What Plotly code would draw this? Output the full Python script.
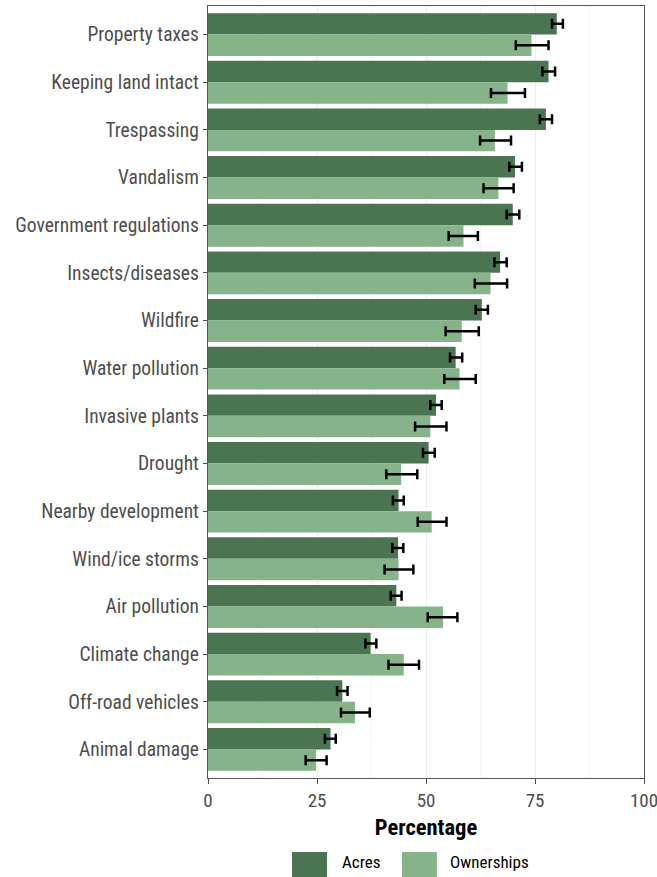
import plotly.graph_objects as go

categories = ["Property taxes", "Keeping land intact", "Trespassing", "Vandalism",
              "Government regulations", "Insects/diseases", "Wildfire", "Water pollution",
              "Invasive plants", "Drought", "Nearby development", "Wind/ice storms",
              "Air pollution", "Climate change", "Off-road vehicles", "Animal damage"]

acres = [80.0, 78.1, 77.5, 70.4, 69.9, 67.0, 62.8, 56.8, 52.3, 50.6, 43.7, 43.6, 43.2, 37.3, 30.8, 28.1]
acres_lo = [78.9, 76.7, 76.1, 69.1, 68.5, 65.7, 61.4, 55.5, 51.0, 49.3, 42.4, 42.3, 41.9, 36.1, 29.6, 26.8]
acres_hi = [81.4, 79.6, 78.9, 72.0, 71.4, 68.5, 64.2, 58.3, 53.6, 52.0, 44.9, 44.8, 44.4, 38.6, 32.0, 29.3]

owners = [74.2, 68.7, 65.8, 66.6, 58.6, 64.8, 58.2, 57.7, 51.0, 44.3, 51.3, 43.7, 53.9, 44.9, 33.7, 24.8]
owners_lo = [70.6, 64.9, 62.4, 63.2, 55.2, 61.2, 54.5, 54.2, 47.5, 40.9, 48.1, 40.5, 50.4, 41.4, 30.5, 22.4]
owners_hi = [78.1, 72.7, 69.5, 70.1, 61.9, 68.6, 62.1, 61.4, 54.7, 48.0, 54.7, 47.1, 57.2, 48.4, 37.1, 27.2]

x_ticks = [0, 25, 50, 75, 100]
series_names = ["Acres", "Ownerships"]
colors = ["#4b7450", "#86b38a"]

FONT = "Liberation Sans Narrow, Roboto Condensed, Arial Narrow, Liberation Sans, sans-serif"

fig = go.Figure()
for name, vals, lo, hi, col in [(series_names[0], acres, acres_lo, acres_hi, colors[0]),
                                (series_names[1], owners, owners_lo, owners_hi, colors[1])]:
    fig.add_trace(go.Bar(
        y=categories, x=vals, orientation="h", name=name,
        marker=dict(color=col, line=dict(width=0)),
        error_x=dict(type="data", symmetric=False,
                     array=[h - v for h, v in zip(hi, vals)],
                     arrayminus=[v - l for l, v in zip(lo, vals)],
                     color="black", thickness=2.5, width=5),
        showlegend=False,
    ))

fig.update_layout(
    width=657, height=877,
    margin=dict(l=208, r=13, t=6, b=99, autoexpand=False),
    barmode="group", bargap=0.1, bargroupgap=0,
    plot_bgcolor="white", paper_bgcolor="white",
    font=dict(family=FONT, size=16, color="#4d4d4d"),
    xaxis=dict(range=[0, 100], tickvals=x_ticks, ticks="outside", ticklen=5,
               tickcolor="#4d4d4d", tickwidth=1.3, automargin=False,
               ticklabeloverflow="allow",
               showgrid=True, gridcolor="#eeeeee", gridwidth=1,
               minor=dict(dtick=12.5, showgrid=True, gridcolor="#f5f5f5", gridwidth=1),
               showline=True, linecolor="#555555", linewidth=1.4, mirror=True,
               zeroline=False,
               tickfont=dict(family=FONT, size=19, color="#4d4d4d"),
               title=dict(text="<b>Percentage</b>", font=dict(family=FONT, size=22.5, color="black"),
                          standoff=8)),
    yaxis=dict(categoryorder="array", categoryarray=categories, automargin=False,
               range=[15.6, -0.6], ticks="outside", ticklen=4, tickcolor="#4d4d4d",
               tickwidth=1.3, showgrid=False,
               showline=True, linecolor="#555555", linewidth=1.4, mirror=True,
               tickfont=dict(family=FONT, size=19.5, color="#4d4d4d")),
)

# legend drawn as boxes + text below the panel
legend_items = [(series_names[0], colors[0], 0.1927, 0.2729, 0.3028),
                (series_names[1], colors[1], 0.445, 0.525, 0.5505)]
for name, col, x0, x1, tx in legend_items:
    fig.add_shape(type="rect", xref="paper", yref="paper",
                  x0=x0, x1=x1, y0=-0.13, y1=-0.0959,
                  fillcolor=col, line=dict(width=0))
    fig.add_annotation(xref="paper", yref="paper", x=tx, y=-0.109,
                       text=name, showarrow=False, xanchor="left", yanchor="middle",
                       font=dict(family=FONT, size=17, color="black"))

fig.write_html("out.html", config={"displayModeBar": False},
               post_script="document.body.style.margin='0';document.body.style.overflow='hidden';")
